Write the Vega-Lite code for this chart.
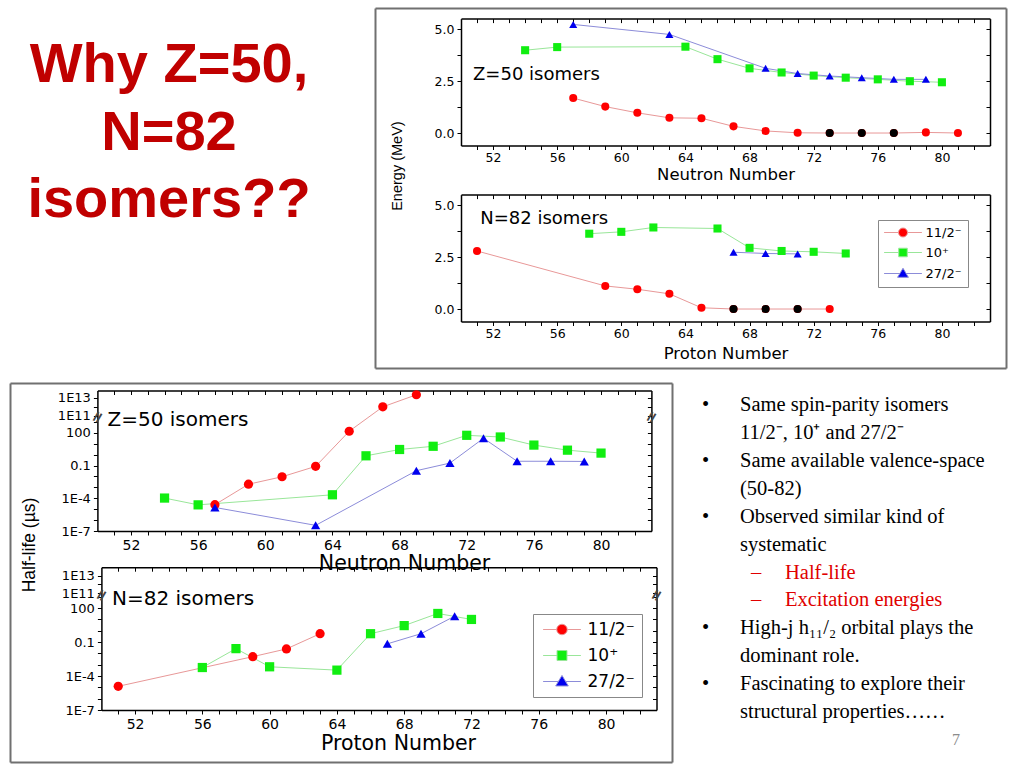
{
  "$schema": "https://vega.github.io/schema/vega-lite/v6.json",
  "description": "Why Z=50, N=82 isomers: excitation energies and half-lives of 11/2-, 10+ and 27/2- isomers",
  "width": 1024,
  "height": 768,
  "autosize": "none",
  "padding": 0,
  "background": "white",
  "datasets": {
    "ez": [
      {"n": 57, "s": "11/2⁻", "e": 1.68}, {"n": 59, "s": "11/2⁻", "e": 1.27}, {"n": 61, "s": "11/2⁻", "e": 0.97},
      {"n": 63, "s": "11/2⁻", "e": 0.73}, {"n": 65, "s": "11/2⁻", "e": 0.71}, {"n": 67, "s": "11/2⁻", "e": 0.32},
      {"n": 69, "s": "11/2⁻", "e": 0.1}, {"n": 71, "s": "11/2⁻", "e": 0.01}, {"n": 73, "s": "11/2⁻", "e": 0, "gs": true},
      {"n": 75, "s": "11/2⁻", "e": 0, "gs": true}, {"n": 77, "s": "11/2⁻", "e": 0, "gs": true}, {"n": 79, "s": "11/2⁻", "e": 0.03},
      {"n": 81, "s": "11/2⁻", "e": 0},
      {"n": 54, "s": "10⁺", "e": 3.98}, {"n": 56, "s": "10⁺", "e": 4.13}, {"n": 64, "s": "10⁺", "e": 4.15},
      {"n": 66, "s": "10⁺", "e": 3.55}, {"n": 68, "s": "10⁺", "e": 3.11}, {"n": 70, "s": "10⁺", "e": 2.91},
      {"n": 72, "s": "10⁺", "e": 2.76}, {"n": 74, "s": "10⁺", "e": 2.66}, {"n": 76, "s": "10⁺", "e": 2.58},
      {"n": 78, "s": "10⁺", "e": 2.49}, {"n": 80, "s": "10⁺", "e": 2.44},
      {"n": 57, "s": "27/2⁻", "e": 5.22}, {"n": 63, "s": "27/2⁻", "e": 4.74}, {"n": 69, "s": "27/2⁻", "e": 3.11},
      {"n": 71, "s": "27/2⁻", "e": 2.86}, {"n": 73, "s": "27/2⁻", "e": 2.74}, {"n": 75, "s": "27/2⁻", "e": 2.66},
      {"n": 77, "s": "27/2⁻", "e": 2.58}, {"n": 79, "s": "27/2⁻", "e": 2.58}
    ],
    "en": [
      {"n": 51, "s": "11/2⁻", "e": 2.79}, {"n": 59, "s": "11/2⁻", "e": 1.11}, {"n": 61, "s": "11/2⁻", "e": 0.95},
      {"n": 63, "s": "11/2⁻", "e": 0.73}, {"n": 65, "s": "11/2⁻", "e": 0.06}, {"n": 67, "s": "11/2⁻", "e": 0, "gs": true},
      {"n": 69, "s": "11/2⁻", "e": 0, "gs": true}, {"n": 71, "s": "11/2⁻", "e": 0, "gs": true}, {"n": 73, "s": "11/2⁻", "e": 0},
      {"n": 58, "s": "10⁺", "e": 3.62}, {"n": 60, "s": "10⁺", "e": 3.71}, {"n": 62, "s": "10⁺", "e": 3.92},
      {"n": 66, "s": "10⁺", "e": 3.87}, {"n": 68, "s": "10⁺", "e": 2.94}, {"n": 70, "s": "10⁺", "e": 2.79},
      {"n": 72, "s": "10⁺", "e": 2.75}, {"n": 74, "s": "10⁺", "e": 2.67},
      {"n": 67, "s": "27/2⁻", "e": 2.73}, {"n": 69, "s": "27/2⁻", "e": 2.67}, {"n": 71, "s": "27/2⁻", "e": 2.65}
    ],
    "hz": [
      {"n": 57, "s": "11/2⁻", "t": 2.6e-5}, {"n": 59, "s": "11/2⁻", "t": 1.95e-3}, {"n": 61, "s": "11/2⁻", "t": 9.5e-3},
      {"n": 63, "s": "11/2⁻", "t": 0.085}, {"n": 65, "s": "11/2⁻", "t": 141}, {"n": 67, "s": "11/2⁻", "t": 9.3e11},
      {"n": 69, "s": "11/2⁻", "t": 2.1e13},
      {"n": 54, "s": "10⁺", "t": 1.05e-4}, {"n": 56, "s": "10⁺", "t": 2.5e-5}, {"n": 64, "s": "10⁺", "t": 2.1e-4},
      {"n": 66, "s": "10⁺", "t": 0.79}, {"n": 68, "s": "10⁺", "t": 3.0}, {"n": 70, "s": "10⁺", "t": 5.9},
      {"n": 72, "s": "10⁺", "t": 60}, {"n": 74, "s": "10⁺", "t": 42}, {"n": 76, "s": "10⁺", "t": 7.6},
      {"n": 78, "s": "10⁺", "t": 2.6}, {"n": 80, "s": "10⁺", "t": 1.4},
      {"n": 57, "s": "27/2⁻", "t": 1.45e-5}, {"n": 63, "s": "27/2⁻", "t": 3.3e-7}, {"n": 69, "s": "27/2⁻", "t": 0.034},
      {"n": 71, "s": "27/2⁻", "t": 0.17}, {"n": 73, "s": "27/2⁻", "t": 32}, {"n": 75, "s": "27/2⁻", "t": 0.25},
      {"n": 77, "s": "27/2⁻", "t": 0.25}, {"n": 79, "s": "27/2⁻", "t": 0.24}
    ],
    "hn": [
      {"n": 51, "s": "11/2⁻", "t": 1.23e-5}, {"n": 59, "s": "11/2⁻", "t": 5.1e-3}, {"n": 61, "s": "11/2⁻", "t": 0.0245},
      {"n": 63, "s": "11/2⁻", "t": 0.54},
      {"n": 56, "s": "10⁺", "t": 5.6e-4}, {"n": 58, "s": "10⁺", "t": 0.026}, {"n": 60, "s": "10⁺", "t": 6.5e-4},
      {"n": 64, "s": "10⁺", "t": 3.3e-4}, {"n": 66, "s": "10⁺", "t": 0.54}, {"n": 68, "s": "10⁺", "t": 2.8},
      {"n": 70, "s": "10⁺", "t": 33}, {"n": 72, "s": "10⁺", "t": 9.8},
      {"n": 67, "s": "27/2⁻", "t": 0.069}, {"n": 69, "s": "27/2⁻", "t": 0.54}, {"n": 71, "s": "27/2⁻", "t": 19}
    ],
    "head": [
      {"row": 0, "t": "Why Z=50,"}, {"row": 1, "t": "N=82"}, {"row": 2, "t": "isomers??"}
    ],
    "notes": [
      {"row": 0, "col": 0, "t": "•"}, {"row": 0, "col": 1, "t": "Same spin-parity isomers"},
      {"row": 1, "col": 1, "t": "11/2⁻, 10⁺ and 27/2⁻"},
      {"row": 2, "col": 0, "t": "•"}, {"row": 2, "col": 1, "t": "Same available valence-space"},
      {"row": 3, "col": 1, "t": "(50-82)"},
      {"row": 4, "col": 0, "t": "•"}, {"row": 4, "col": 1, "t": "Observed similar kind of"},
      {"row": 5, "col": 1, "t": "systematic"},
      {"row": 6, "col": 2, "t": "–", "red": true}, {"row": 6, "col": 3, "t": "Half-life", "red": true},
      {"row": 7, "col": 2, "t": "–", "red": true}, {"row": 7, "col": 3, "t": "Excitation energies", "red": true},
      {"row": 8, "col": 0, "t": "•"}, {"row": 8, "col": 1, "t": "High-j h₁₁/₂ orbital plays the"},
      {"row": 9, "col": 1, "t": "dominant role."},
      {"row": 10, "col": 0, "t": "•"}, {"row": 10, "col": 1, "t": "Fascinating to explore their"},
      {"row": 11, "col": 1, "t": "structural properties……"},
      {"row": 12, "col": 4, "t": "7"}
    ]
  },
  "resolve": {
    "scale": {"x": "independent", "y": "independent", "color": "independent", "shape": "independent", "stroke": "independent"}
  },
  "layer": [
    {
      "data": {"name": "ez"},
      "transform": [{"filter": "false"}],
      "mark": "point",
      "encoding": {
        "x": {"field": "n", "type": "quantitative", "scale": {"domain": [0, 1], "range": [375, 1006], "nice": false, "zero": false},
          "axis": {"orient": "bottom", "offset": -400, "values": [], "ticks": false, "labels": false, "title": null, "domainColor": "#707070", "domainWidth": 2}},
        "y": {"field": "e", "type": "quantitative", "scale": {"domain": [0, 1], "range": [368, 8], "nice": false, "zero": false},
          "axis": {"orient": "left", "offset": -375, "values": [], "ticks": false, "labels": false, "title": null, "domainColor": "#707070", "domainWidth": 2}}
      }
    },
    {
      "data": {"name": "ez"},
      "transform": [{"filter": "false"}],
      "mark": "point",
      "encoding": {
        "x": {"field": "n", "type": "quantitative", "scale": {"domain": [0, 1], "range": [375, 1006], "nice": false, "zero": false},
          "axis": {"orient": "top", "offset": -8, "values": [], "ticks": false, "labels": false, "title": null, "domainColor": "#707070", "domainWidth": 2}},
        "y": {"field": "e", "type": "quantitative", "scale": {"domain": [0, 1], "range": [368, 8], "nice": false, "zero": false},
          "axis": {"orient": "right", "offset": -18, "values": [], "ticks": false, "labels": false, "title": null, "domainColor": "#707070", "domainWidth": 2}}
      }
    },
    {
      "data": {"name": "ez"},
      "transform": [{"filter": "false"}],
      "mark": "point",
      "encoding": {
        "x": {"field": "n", "type": "quantitative", "scale": {"domain": [0, 1], "range": [10, 672], "nice": false, "zero": false},
          "axis": {"orient": "bottom", "offset": -6, "values": [], "ticks": false, "labels": false, "title": null, "domainColor": "#707070", "domainWidth": 2}},
        "y": {"field": "e", "type": "quantitative", "scale": {"domain": [0, 1], "range": [762, 383], "nice": false, "zero": false},
          "axis": {"orient": "left", "offset": -10, "values": [], "ticks": false, "labels": false, "title": null, "domainColor": "#707070", "domainWidth": 2}}
      }
    },
    {
      "data": {"name": "ez"},
      "transform": [{"filter": "false"}],
      "mark": "point",
      "encoding": {
        "x": {"field": "n", "type": "quantitative", "scale": {"domain": [0, 1], "range": [10, 672], "nice": false, "zero": false},
          "axis": {"orient": "top", "offset": -383, "values": [], "ticks": false, "labels": false, "title": null, "domainColor": "#707070", "domainWidth": 2}},
        "y": {"field": "e", "type": "quantitative", "scale": {"domain": [0, 1], "range": [762, 383], "nice": false, "zero": false},
          "axis": {"orient": "right", "offset": -352, "values": [], "ticks": false, "labels": false, "title": null, "domainColor": "#707070", "domainWidth": 2}}
      }
    },
    {
      "data": {"name": "ez"},
      "mark": {"type": "line", "strokeWidth": 1},
      "encoding": {
        "x": {"field": "n", "type": "quantitative", "scale": {"domain": [50, 83], "range": [461, 990], "nice": false, "zero": false},
          "axis": {"orient": "bottom", "offset": -622.5, "values": [51,52,53,54,55,56,57,58,59,60,61,62,63,64,65,66,67,68,69,70,71,72,73,74,75,76,77,78,79,80,81,82],
            "labelExpr": "datum.value % 4 == 0 ? datum.value : ''", "tickSize": 4, "labelFont": "DejaVu Sans", "labelFontSize": 12.5, "labelPadding": 2,
            "title": "Neutron Number", "titleFont": "DejaVu Sans", "titleFontSize": 16.5, "titlePadding": 2}},
        "y": {"field": "e", "type": "quantitative", "scale": {"domain": [-0.6, 5.5], "range": [145.5, 18.6], "nice": false, "zero": false},
          "axis": {"orient": "left", "offset": -461, "values": [0, 1.25, 2.5, 3.75, 5],
            "labelExpr": "datum.value % 2.5 == 0 ? format(datum.value, '.1f') : ''", "tickSize": 4, "labelFont": "DejaVu Sans", "labelFontSize": 12.5, "labelPadding": 3, "title": null}},
        "stroke": {"field": "s", "type": "nominal", "scale": {"domain": ["11/2⁻", "10⁺", "27/2⁻"], "range": ["#e89898", "#99e699", "#8c8cd9"]}, "legend": null}
      }
    },
    {
      "data": {"name": "ez"},
      "mark": {"type": "point", "filled": true, "size": 65, "opacity": 1},
      "encoding": {
        "x": {"field": "n", "type": "quantitative", "scale": {"domain": [50, 83], "range": [461, 990], "nice": false, "zero": false},
          "axis": {"orient": "top", "offset": -18.6, "values": [51,52,53,54,55,56,57,58,59,60,61,62,63,64,65,66,67,68,69,70,71,72,73,74,75,76,77,78,79,80,81,82], "labels": false, "tickSize": -4, "title": null}},
        "y": {"field": "e", "type": "quantitative", "scale": {"domain": [-0.6, 5.5], "range": [145.5, 18.6], "nice": false, "zero": false},
          "axis": {"orient": "right", "offset": -34, "values": [0, 1.25, 2.5, 3.75, 5], "labels": false, "tickSize": -4, "title": null}},
        "color": {"field": "s", "type": "nominal", "scale": {"domain": ["11/2⁻", "10⁺", "27/2⁻"], "range": ["#ff0000", "#11ee11", "#0000ee"]}, "legend": null},
        "shape": {"field": "s", "type": "nominal", "scale": {"domain": ["11/2⁻", "10⁺", "27/2⁻"], "range": ["circle", "square", "triangle-up"]}, "legend": null}
      }
    },
    {
      "data": {"name": "ez"},
      "transform": [{"filter": "datum.gs"}],
      "mark": {"type": "point", "filled": true, "size": 65, "opacity": 1, "color": "black"},
      "encoding": {
        "x": {"field": "n", "type": "quantitative", "scale": {"domain": [50, 83], "range": [461, 990], "nice": false, "zero": false}, "axis": null},
        "y": {"field": "e", "type": "quantitative", "scale": {"domain": [-0.6, 5.5], "range": [145.5, 18.6], "nice": false, "zero": false}, "axis": null}
      }
    },
    {
      "data": {"values": [{}]},
      "mark": {"type": "text", "align": "left", "baseline": "middle", "font": "DejaVu Sans", "fontSize": 18, "color": "black"},
      "encoding": {
        "x": {"datum": 50.75, "type": "quantitative", "scale": {"domain": [50, 83], "range": [461, 990], "nice": false, "zero": false}, "axis": null},
        "y": {"datum": 2.79, "type": "quantitative", "scale": {"domain": [-0.6, 5.5], "range": [145.5, 18.6], "nice": false, "zero": false}, "axis": null},
        "text": {"value": "Z=50 isomers"}
      }
    },
    {
      "data": {"values": [{}]},
      "mark": {"type": "text", "align": "center", "baseline": "middle", "angle": 270, "font": "Liberation Sans", "fontSize": 14.5, "color": "black"},
      "encoding": {
        "x": {"datum": 46.07, "type": "quantitative", "scale": {"domain": [50, 83], "range": [461, 990], "nice": false, "zero": false}, "axis": null},
        "y": {"datum": -1.59, "type": "quantitative", "scale": {"domain": [-0.6, 5.5], "range": [145.5, 18.6], "nice": false, "zero": false}, "axis": null},
        "text": {"value": "Energy (MeV)"}
      }
    },
    {
      "data": {"name": "en"},
      "mark": {"type": "line", "strokeWidth": 1},
      "encoding": {
        "x": {"field": "n", "type": "quantitative", "scale": {"domain": [50, 83], "range": [461, 990], "nice": false, "zero": false},
          "axis": {"orient": "bottom", "offset": -446.5, "values": [51,52,53,54,55,56,57,58,59,60,61,62,63,64,65,66,67,68,69,70,71,72,73,74,75,76,77,78,79,80,81,82],
            "labelExpr": "datum.value % 4 == 0 ? datum.value : ''", "tickSize": 4, "labelFont": "DejaVu Sans", "labelFontSize": 12.5, "labelPadding": 2,
            "title": "Proton Number", "titleFont": "DejaVu Sans", "titleFontSize": 16.5, "titlePadding": 5}},
        "y": {"field": "e", "type": "quantitative", "scale": {"domain": [-0.6, 5.5], "range": [321.5, 194.6], "nice": false, "zero": false},
          "axis": {"orient": "left", "offset": -461, "values": [0, 1.25, 2.5, 3.75, 5],
            "labelExpr": "datum.value % 2.5 == 0 ? format(datum.value, '.1f') : ''", "tickSize": 4, "labelFont": "DejaVu Sans", "labelFontSize": 12.5, "labelPadding": 3, "title": null}},
        "stroke": {"field": "s", "type": "nominal", "scale": {"domain": ["11/2⁻", "10⁺", "27/2⁻"], "range": ["#e89898", "#99e699", "#8c8cd9"]}, "legend": null}
      }
    },
    {
      "data": {"name": "en"},
      "mark": {"type": "point", "filled": true, "size": 65, "opacity": 1},
      "encoding": {
        "x": {"field": "n", "type": "quantitative", "scale": {"domain": [50, 83], "range": [461, 990], "nice": false, "zero": false},
          "axis": {"orient": "top", "offset": -194.6, "values": [51,52,53,54,55,56,57,58,59,60,61,62,63,64,65,66,67,68,69,70,71,72,73,74,75,76,77,78,79,80,81,82], "labels": false, "tickSize": -4, "title": null}},
        "y": {"field": "e", "type": "quantitative", "scale": {"domain": [-0.6, 5.5], "range": [321.5, 194.6], "nice": false, "zero": false},
          "axis": {"orient": "right", "offset": -34, "values": [0, 1.25, 2.5, 3.75, 5], "labels": false, "tickSize": -4, "title": null}},
        "color": {"field": "s", "type": "nominal", "scale": {"domain": ["11/2⁻", "10⁺", "27/2⁻"], "range": ["#ff0000", "#11ee11", "#0000ee"]}, "legend": null},
        "shape": {"field": "s", "type": "nominal", "scale": {"domain": ["11/2⁻", "10⁺", "27/2⁻"], "range": ["circle", "square", "triangle-up"]}, "legend": null}
      }
    },
    {
      "data": {"name": "en"},
      "transform": [{"filter": "datum.gs"}],
      "mark": {"type": "point", "filled": true, "size": 65, "opacity": 1, "color": "black"},
      "encoding": {
        "x": {"field": "n", "type": "quantitative", "scale": {"domain": [50, 83], "range": [461, 990], "nice": false, "zero": false}, "axis": null},
        "y": {"field": "e", "type": "quantitative", "scale": {"domain": [-0.6, 5.5], "range": [321.5, 194.6], "nice": false, "zero": false}, "axis": null}
      }
    },
    {
      "data": {"name": "en"},
      "transform": [{"filter": "false"}],
      "mark": {"type": "point", "filled": true, "strokeWidth": 1, "opacity": 1},
      "encoding": {
        "x": {"field": "n", "type": "quantitative", "scale": {"domain": [50, 83], "range": [461, 990], "nice": false, "zero": false}, "axis": null},
        "y": {"field": "e", "type": "quantitative", "scale": {"domain": [-0.6, 5.5], "range": [321.5, 194.6], "nice": false, "zero": false}, "axis": null},
        "color": {"field": "s", "type": "nominal", "scale": {"domain": ["11/2⁻", "10⁺", "27/2⁻"], "range": ["#ff0000", "#11ee11", "#0000ee"]},
          "legend": {"orient": "none", "legendX": 878, "legendY": 220, "title": null, "padding": 6, "strokeColor": "#888888", "fillColor": "white",
            "labelFont": "DejaVu Sans", "labelFontSize": 13, "labelColor": "black", "symbolSize": 81, "symbolStrokeWidth": 1, "symbolOpacity": 1, "symbolOffset": 12.5, "labelOffset": 16, "rowPadding": 6}},
        "stroke": {"field": "s", "type": "nominal", "scale": {"domain": ["11/2⁻", "10⁺", "27/2⁻"], "range": ["#e89898", "#99e699", "#8c8cd9"]},
          "legend": {"orient": "none", "legendX": 878, "legendY": 220, "title": null, "padding": 6, "strokeColor": "#888888", "fillColor": "white",
            "labelFont": "DejaVu Sans", "labelFontSize": 13, "labelColor": "black", "symbolSize": 81, "symbolStrokeWidth": 1, "symbolOpacity": 1, "symbolOffset": 12.5, "labelOffset": 16, "rowPadding": 6}},
        "shape": {"field": "s", "type": "nominal", "scale": {"domain": ["11/2⁻", "10⁺", "27/2⁻"],
            "range": ["M-4.2,0H-1M1,0H4.2M-1,0A1,1,0,1,0,1,0A1,1,0,1,0,-1,0Z", "M-4.2,0H-0.95M0.95,0H4.2M-0.95,-0.95H0.95V0.95H-0.95Z", "M-4.2,0H-0.69M0.69,0H4.2M0,-1.15L1.2,0.85H-1.2Z"]},
          "legend": {"orient": "none", "legendX": 878, "legendY": 220, "title": null, "padding": 6, "strokeColor": "#888888", "fillColor": "white",
            "labelFont": "DejaVu Sans", "labelFontSize": 13, "labelColor": "black", "symbolSize": 81, "symbolStrokeWidth": 1, "symbolOpacity": 1, "symbolOffset": 12.5, "labelOffset": 16, "rowPadding": 6}}
      }
    },
    {
      "data": {"values": [{}]},
      "mark": {"type": "text", "align": "left", "baseline": "middle", "font": "DejaVu Sans", "fontSize": 18, "color": "black"},
      "encoding": {
        "x": {"datum": 51.2, "type": "quantitative", "scale": {"domain": [50, 83], "range": [461, 990], "nice": false, "zero": false}, "axis": null},
        "y": {"datum": 4.33, "type": "quantitative", "scale": {"domain": [-0.6, 5.5], "range": [321.5, 194.6], "nice": false, "zero": false}, "axis": null},
        "text": {"value": "N=82 isomers"}
      }
    },
    {
      "data": {"name": "hz"},
      "mark": {"type": "line", "strokeWidth": 1},
      "encoding": {
        "x": {"field": "n", "type": "quantitative", "scale": {"domain": [50, 83], "range": [97.4, 651.4], "nice": false, "zero": false},
          "axis": {"orient": "bottom", "offset": -237, "values": [51,52,53,54,55,56,57,58,59,60,61,62,63,64,65,66,67,68,69,70,71,72,73,74,75,76,77,78,79,80,81,82],
            "labelExpr": "datum.value % 4 == 0 ? datum.value : ''", "tickSize": 4, "labelFont": "DejaVu Sans", "labelFontSize": 14, "labelPadding": 3,
            "title": "Neutron Number", "titleFont": "DejaVu Sans", "titleFontSize": 20.5, "titlePadding": 1, "titleX": 404}},
        "y": {"field": "t", "type": "quantitative", "scale": {"type": "log", "domain": [1e-7, 2690, 6.3e10, 6.3e13], "range": [531, 417.3, 417.3, 390.5], "nice": false},
          "axis": {"orient": "left", "offset": -97.4, "values": [1e-7, 1e-6, 1e-5, 1e-4, 0.001, 0.01, 0.1, 1, 10, 100, 1000, 1e11, 1e12, 1e13],
            "labelExpr": "indexof([-7, -4, -1, 2, 11, 13], round(log(datum.value) / LN10)) < 0 ? '' : (datum.value > 0.05 && datum.value < 1000 ? format(datum.value, '') : '1E' + round(log(datum.value) / LN10))",
            "tickSize": 4, "labelFont": "DejaVu Sans", "labelFontSize": 13, "labelPadding": 3, "title": null}},
        "stroke": {"field": "s", "type": "nominal", "scale": {"domain": ["11/2⁻", "10⁺", "27/2⁻"], "range": ["#e89898", "#99e699", "#8c8cd9"]}, "legend": null}
      }
    },
    {
      "data": {"name": "hz"},
      "mark": {"type": "point", "filled": true, "size": 85, "opacity": 1},
      "encoding": {
        "x": {"field": "n", "type": "quantitative", "scale": {"domain": [50, 83], "range": [97.4, 651.4], "nice": false, "zero": false},
          "axis": {"orient": "top", "offset": -390.5, "values": [51,52,53,54,55,56,57,58,59,60,61,62,63,64,65,66,67,68,69,70,71,72,73,74,75,76,77,78,79,80,81,82], "labels": false, "tickSize": -4, "title": null}},
        "y": {"field": "t", "type": "quantitative", "scale": {"type": "log", "domain": [1e-7, 2690, 6.3e10, 6.3e13], "range": [531, 417.3, 417.3, 390.5], "nice": false},
          "axis": {"orient": "right", "offset": -372.6, "values": [1e-7, 1e-6, 1e-5, 1e-4, 0.001, 0.01, 0.1, 1, 10, 100, 1000, 1e11, 1e12, 1e13], "labels": false, "tickSize": -4, "title": null}},
        "color": {"field": "s", "type": "nominal", "scale": {"domain": ["11/2⁻", "10⁺", "27/2⁻"], "range": ["#ff0000", "#11ee11", "#0000ee"]}, "legend": null},
        "shape": {"field": "s", "type": "nominal", "scale": {"domain": ["11/2⁻", "10⁺", "27/2⁻"], "range": ["circle", "square", "triangle-up"]}, "legend": null}
      }
    },
    {
      "data": {"values": [{}]},
      "mark": {"type": "text", "align": "left", "baseline": "middle", "font": "DejaVu Sans", "fontSize": 20, "color": "black"},
      "encoding": {
        "x": {"datum": 50.6, "type": "quantitative", "scale": {"domain": [50, 83], "range": [97.4, 651.4], "nice": false, "zero": false}, "axis": null},
        "y": {"datum": 1500, "type": "quantitative", "scale": {"type": "log", "domain": [1e-7, 2690, 6.3e10, 6.3e13], "range": [531, 417.3, 417.3, 390.5], "nice": false}, "axis": null},
        "text": {"value": "Z=50 isomers"}
      }
    },
    {
      "data": {"values": [{"x": 50}, {"x": 83}]},
      "mark": {"type": "text", "align": "center", "baseline": "middle", "font": "DejaVu Sans", "fontSize": 16, "fontWeight": "bold", "angle": 300, "color": "#444444"},
      "encoding": {
        "x": {"field": "x", "type": "quantitative", "scale": {"domain": [50, 83], "range": [97.4, 651.4], "nice": false, "zero": false}, "axis": null},
        "y": {"datum": 1e7, "type": "quantitative", "scale": {"type": "log", "domain": [1e-7, 2690, 6.3e10, 6.3e13], "range": [531, 417.3, 417.3, 390.5], "nice": false}, "axis": null},
        "text": {"value": "="}
      }
    },
    {
      "data": {"values": [{}]},
      "mark": {"type": "text", "align": "center", "baseline": "middle", "angle": 270, "font": "Liberation Sans", "fontSize": 17.5, "color": "black"},
      "encoding": {
        "x": {"datum": 46.0, "type": "quantitative", "scale": {"domain": [50, 83], "range": [97.4, 651.4], "nice": false, "zero": false}, "axis": null},
        "y": {"datum": 5.2e-9, "type": "quantitative", "scale": {"type": "log", "domain": [1e-7, 2690, 6.3e10, 6.3e13], "range": [531, 417.3, 417.3, 390.5], "nice": false}, "axis": null},
        "text": {"value": "Half-life (µs)"}
      }
    },
    {
      "data": {"name": "hn"},
      "mark": {"type": "line", "strokeWidth": 1},
      "encoding": {
        "x": {"field": "n", "type": "quantitative", "scale": {"domain": [50, 83], "range": [101.4, 656.5], "nice": false, "zero": false},
          "axis": {"orient": "bottom", "offset": -58, "values": [51,52,53,54,55,56,57,58,59,60,61,62,63,64,65,66,67,68,69,70,71,72,73,74,75,76,77,78,79,80,81,82],
            "labelExpr": "datum.value % 4 == 0 ? datum.value : ''", "tickSize": 4, "labelFont": "DejaVu Sans", "labelFontSize": 14, "labelPadding": 3,
            "title": "Proton Number", "titleFont": "DejaVu Sans", "titleFontSize": 20.5, "titlePadding": 2, "titleX": 398}},
        "y": {"field": "t", "type": "quantitative", "scale": {"type": "log", "domain": [1e-7, 1350, 5.9e10, 9.1e13], "range": [710, 595.2, 595.2, 567.2], "nice": false},
          "axis": {"orient": "left", "offset": -101.4, "values": [1e-7, 1e-6, 1e-5, 1e-4, 0.001, 0.01, 0.1, 1, 10, 100, 1000, 1e11, 1e12, 1e13],
            "labelExpr": "indexof([-7, -4, -1, 2, 11, 13], round(log(datum.value) / LN10)) < 0 ? '' : (datum.value > 0.05 && datum.value < 1000 ? format(datum.value, '') : '1E' + round(log(datum.value) / LN10))",
            "tickSize": 4, "labelFont": "DejaVu Sans", "labelFontSize": 13, "labelPadding": 3, "title": null}},
        "stroke": {"field": "s", "type": "nominal", "scale": {"domain": ["11/2⁻", "10⁺", "27/2⁻"], "range": ["#e89898", "#99e699", "#8c8cd9"]}, "legend": null}
      }
    },
    {
      "data": {"name": "hn"},
      "mark": {"type": "point", "filled": true, "size": 85, "opacity": 1},
      "encoding": {
        "x": {"field": "n", "type": "quantitative", "scale": {"domain": [50, 83], "range": [101.4, 656.5], "nice": false, "zero": false},
          "axis": {"orient": "top", "offset": -567.2, "values": [51,52,53,54,55,56,57,58,59,60,61,62,63,64,65,66,67,68,69,70,71,72,73,74,75,76,77,78,79,80,81,82], "labels": false, "tickSize": -4, "title": null}},
        "y": {"field": "t", "type": "quantitative", "scale": {"type": "log", "domain": [1e-7, 1350, 5.9e10, 9.1e13], "range": [710, 595.2, 595.2, 567.2], "nice": false},
          "axis": {"orient": "right", "offset": -367.5, "values": [1e-7, 1e-6, 1e-5, 1e-4, 0.001, 0.01, 0.1, 1, 10, 100, 1000, 1e11, 1e12, 1e13], "labels": false, "tickSize": -4, "title": null}},
        "color": {"field": "s", "type": "nominal", "scale": {"domain": ["11/2⁻", "10⁺", "27/2⁻"], "range": ["#ff0000", "#11ee11", "#0000ee"]}, "legend": null},
        "shape": {"field": "s", "type": "nominal", "scale": {"domain": ["11/2⁻", "10⁺", "27/2⁻"], "range": ["circle", "square", "triangle-up"]}, "legend": null}
      }
    },
    {
      "data": {"name": "hn"},
      "transform": [{"filter": "false"}],
      "mark": {"type": "point", "filled": true, "strokeWidth": 1, "opacity": 1},
      "encoding": {
        "x": {"field": "n", "type": "quantitative", "scale": {"domain": [50, 83], "range": [101.4, 656.5], "nice": false, "zero": false}, "axis": null},
        "y": {"field": "t", "type": "quantitative", "scale": {"type": "log", "domain": [1e-7, 1350, 5.9e10, 9.1e13], "range": [710, 595.2, 595.2, 567.2], "nice": false}, "axis": null},
        "color": {"field": "s", "type": "nominal", "scale": {"domain": ["11/2⁻", "10⁺", "27/2⁻"], "range": ["#ff0000", "#11ee11", "#0000ee"]},
          "legend": {"orient": "none", "legendX": 533, "legendY": 614, "title": null, "padding": 7, "strokeColor": "#888888", "fillColor": "white",
            "labelFont": "DejaVu Sans", "labelFontSize": 17, "labelColor": "black", "symbolSize": 110, "symbolStrokeWidth": 1, "symbolOpacity": 1, "symbolOffset": 13.5, "labelOffset": 17, "rowPadding": 8}},
        "stroke": {"field": "s", "type": "nominal", "scale": {"domain": ["11/2⁻", "10⁺", "27/2⁻"], "range": ["#e89898", "#99e699", "#8c8cd9"]},
          "legend": {"orient": "none", "legendX": 533, "legendY": 614, "title": null, "padding": 7, "strokeColor": "#888888", "fillColor": "white",
            "labelFont": "DejaVu Sans", "labelFontSize": 17, "labelColor": "black", "symbolSize": 110, "symbolStrokeWidth": 1, "symbolOpacity": 1, "symbolOffset": 13.5, "labelOffset": 17, "rowPadding": 8}},
        "shape": {"field": "s", "type": "nominal", "scale": {"domain": ["11/2⁻", "10⁺", "27/2⁻"],
            "range": ["M-3.6,0H-1M1,0H3.6M-1,0A1,1,0,1,0,1,0A1,1,0,1,0,-1,0Z", "M-3.6,0H-0.95M0.95,0H3.6M-0.95,-0.95H0.95V0.95H-0.95Z", "M-3.6,0H-0.69M0.69,0H3.6M0,-1.15L1.2,0.85H-1.2Z"]},
          "legend": {"orient": "none", "legendX": 533, "legendY": 614, "title": null, "padding": 7, "strokeColor": "#888888", "fillColor": "white",
            "labelFont": "DejaVu Sans", "labelFontSize": 17, "labelColor": "black", "symbolSize": 110, "symbolStrokeWidth": 1, "symbolOpacity": 1, "symbolOffset": 13.5, "labelOffset": 17, "rowPadding": 8}}
      }
    },
    {
      "data": {"values": [{}]},
      "mark": {"type": "text", "align": "left", "baseline": "middle", "font": "DejaVu Sans", "fontSize": 20, "color": "black"},
      "encoding": {
        "x": {"datum": 50.63, "type": "quantitative", "scale": {"domain": [50, 83], "range": [101.4, 656.5], "nice": false, "zero": false}, "axis": null},
        "y": {"datum": 630, "type": "quantitative", "scale": {"type": "log", "domain": [1e-7, 1350, 5.9e10, 9.1e13], "range": [710, 595.2, 595.2, 567.2], "nice": false}, "axis": null},
        "text": {"value": "N=82 isomers"}
      }
    },
    {
      "data": {"values": [{"x": 50}, {"x": 83}]},
      "mark": {"type": "text", "align": "center", "baseline": "middle", "font": "DejaVu Sans", "fontSize": 16, "fontWeight": "bold", "angle": 300, "color": "#444444"},
      "encoding": {
        "x": {"field": "x", "type": "quantitative", "scale": {"domain": [50, 83], "range": [101.4, 656.5], "nice": false, "zero": false}, "axis": null},
        "y": {"datum": 1e7, "type": "quantitative", "scale": {"type": "log", "domain": [1e-7, 1350, 5.9e10, 9.1e13], "range": [710, 595.2, 595.2, 567.2], "nice": false}, "axis": null},
        "text": {"value": "="}
      }
    },
    {
      "data": {"name": "head"},
      "mark": {"type": "text", "align": "center", "baseline": "alphabetic", "font": "Liberation Sans", "fontSize": 56, "fontWeight": "bold", "color": "#c00000"},
      "encoding": {
        "x": {"datum": 0, "type": "quantitative", "scale": {"domain": [0, 1], "range": [169, 1000], "nice": false, "zero": false}, "axis": null},
        "y": {"field": "row", "type": "quantitative", "scale": {"domain": [0, 2], "range": [82, 217], "nice": false, "zero": false}, "axis": null},
        "text": {"field": "t"}
      }
    },
    {
      "data": {"name": "notes"},
      "mark": {"type": "text", "align": "left", "baseline": "middle", "font": "Liberation Serif"},
      "encoding": {
        "x": {"field": "col", "type": "quantitative", "scale": {"domain": [0, 1, 2, 3, 4], "range": [702, 740, 751, 785, 952], "nice": false, "zero": false}, "axis": null},
        "y": {"field": "row", "type": "quantitative", "scale": {"domain": [0, 12], "range": [405, 740], "nice": false, "zero": false}, "axis": null},
        "text": {"field": "t"},
        "size": {"condition": {"test": "datum.col == 4", "value": 16}, "value": 20.5},
        "color": {"condition": [{"test": "datum.red", "value": "#e00000"}, {"test": "datum.col == 4", "value": "#8c8c8c"}], "value": "black"}
      }
    }
  ],
  "config": {
    "view": {"stroke": null},
    "axis": {
      "grid": false, "domainColor": "black", "tickColor": "black", "labelColor": "black", "titleColor": "black",
      "labelOverlap": false, "labelFlush": false, "labelBound": false, "titleFontWeight": "normal",
      "domainWidth": 1.5, "tickWidth": 1
    }
  }
}
